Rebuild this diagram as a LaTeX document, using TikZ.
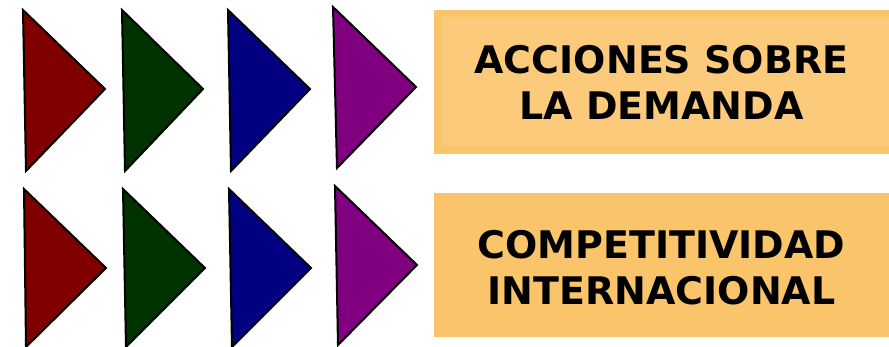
\documentclass[tikz,border=0pt]{standalone}
\usepackage{fontspec}
\setmainfont{DejaVu Sans}
\definecolor{tRed}{HTML}{800000}
\definecolor{tGreen}{HTML}{003300}
\definecolor{tBlue}{HTML}{000080}
\definecolor{tPurple}{HTML}{800080}
\definecolor{boxOrange}{HTML}{FAC46A}
\definecolor{boxLight}{HTML}{FBCA7A}
\begin{document}
\begin{tikzpicture}[
    x=1pt, y=-1pt,
    arrowtri/.style={draw=black, line width=2pt, line join=miter},
    topicbox/.style={rectangle, fill=boxOrange, minimum width=455pt, minimum height=144pt, inner sep=0pt},
    topic/.style={align=center, font=\bfseries\fontsize{38}{46}\selectfont}
]
\useasboundingbox (0,0) rectangle (889,347);

% Upper row of triangles
\filldraw[arrowtri, fill=tRed] (23,10) -- (105,89) -- (26,171) -- cycle;
\filldraw[arrowtri, fill=tGreen] (122,10) -- (203,89) -- (125,171) -- cycle;
\filldraw[arrowtri, fill=tBlue] (228,10) -- (310,89) -- (231,171) -- cycle;
\filldraw[arrowtri, fill=tPurple] (333,7) -- (416,87) -- (337,168) -- cycle;

% Lower row of triangles
\filldraw[arrowtri, fill=tRed] (24,189) -- (106,268) -- (26,347) -- cycle;
\filldraw[arrowtri, fill=tGreen] (123,189) -- (205,268) -- (126,347) -- cycle;
\filldraw[arrowtri, fill=tBlue] (229,189) -- (311,268) -- (232,347) -- cycle;
\filldraw[arrowtri, fill=tPurple] (335,186) -- (417,265) -- (338,345) -- cycle;

% Boxes
\node[topicbox] (demand) at (661.5,82) {};
\fill[boxLight] (442,17) rectangle (889,146);
\node[topic] (demandtxt) at (demand.center) {ACCIONES SOBRE\\LA DEMANDA};

\node[topicbox] (compet) at (661.5,265) {};
\node[topic] (competxt) at ([yshift=-2.5pt]compet.center) {COMPETITIVIDAD\\INTERNACIONAL};

\end{tikzpicture}
\end{document}
